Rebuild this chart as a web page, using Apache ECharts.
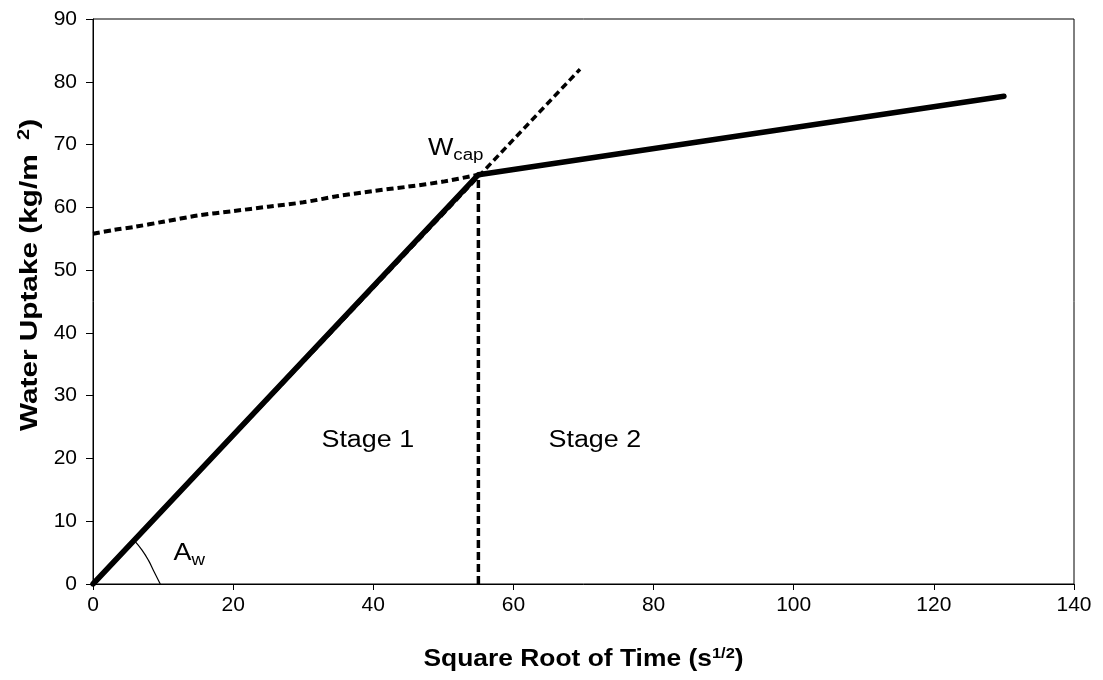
<!DOCTYPE html>
<html>
<head>
<meta charset="utf-8">
<script src="https://cdn.jsdelivr.net/npm/echarts@6/dist/echarts.min.js"></script>
<style>
  html, body { margin: 0; padding: 0; background: #fff; }
  #chart { width: 1103px; height: 680px; }
</style>
</head>
<body>
<div id="chart"></div>
<script>
// Capillary water uptake vs. square root of time

// Measured stage 1 / stage 2 uptake (solid)
const uptakeX = [0, 55, 130];
const uptakeY = [0, 65.2, 77.7];

// Stage 1 tangent extended beyond the knee (dashed)
const tangentX = [0, 69.5];
const tangentY = [0, 82];

// Stage 2 trend back-extrapolated to t = 0 (dashed)
const stage2X = [0, 3, 6, 10, 15, 20, 25, 30, 35, 40, 45, 50, 55];
const stage2Y = [55.8, 56.4, 56.9, 57.7, 58.7, 59.4, 60.1, 60.8, 61.8, 62.6, 63.3, 64.1, 65.2];

// Vertical marker at the capillary saturation point
const kneeX = [55, 55];
const kneeY = [0, 65.2];

// Angle arc marking the absorption coefficient
const arcX = [6.0, 7.0, 7.9, 8.7, 9.6];
const arcY = [6.8, 5.4, 3.8, 2.0, 0];

// Axis ticks
const xTicks = { min: 0, max: 140, interval: 20 };
const yTicks = { min: 0, max: 90, interval: 10 };

const toPairs = (xs, ys) => xs.map((x, i) => [x, ys[i]]);

const FONT = 'Liberation Sans, Arial, sans-serif';
const WIDE = 1.17; // horizontal stretch of the label lettering

const chart = echarts.init(document.getElementById('chart'), null, { renderer: 'canvas' });

const option = {
  backgroundColor: '#ffffff',
  animation: false,
  grid: {
    left: 93, right: 29, top: 19, bottom: 96,
    show: true, borderColor: '#000', borderWidth: 1, backgroundColor: 'transparent'
  },
  xAxis: {
    type: 'value',
    min: xTicks.min, max: xTicks.max, interval: xTicks.interval,
    axisLine: { onZero: false, lineStyle: { color: '#000', width: 1 } },
    axisTick: { show: true, inside: false, length: 6, lineStyle: { color: '#000' } },
    axisLabel: { color: '#000', fontFamily: FONT, fontSize: 21, margin: 11 },
    splitLine: { show: false }
  },
  yAxis: {
    type: 'value',
    min: yTicks.min, max: yTicks.max, interval: yTicks.interval,
    axisLine: { show: true, onZero: false, lineStyle: { color: '#000', width: 1 } },
    axisTick: { show: true, inside: false, length: 7, lineStyle: { color: '#000' } },
    axisLabel: { color: '#000', fontFamily: FONT, fontSize: 21, margin: 16 },
    splitLine: { show: false }
  },
  series: [
    {
      name: 'stage2-trend', type: 'line', data: toPairs(stage2X, stage2Y),
      showSymbol: false, smooth: 0.3, z: 2,
      lineStyle: { color: '#000', width: 4, type: [7, 4] }
    },
    {
      name: 'stage1-tangent', type: 'line', data: toPairs(tangentX, tangentY),
      showSymbol: false, z: 2,
      lineStyle: { color: '#000', width: 3.5, type: [7, 4] }
    },
    {
      name: 'knee', type: 'line', data: toPairs(kneeX, kneeY),
      showSymbol: false, z: 2,
      lineStyle: { color: '#000', width: 3.5, type: [8, 4] }
    },
    {
      name: 'uptake', type: 'line', data: toPairs(uptakeX, uptakeY),
      showSymbol: false, z: 3,
      lineStyle: { color: '#000', width: 5.5, cap: 'round', join: 'round' }
    },
    {
      name: 'angle', type: 'line', data: toPairs(arcX, arcY),
      showSymbol: false, smooth: true, z: 3,
      lineStyle: { color: '#000', width: 1.2 }
    }
  ]
};

chart.setOption(option);

const measure = (txt, size, weight) => {
  const ctx = document.createElement('canvas').getContext('2d');
  ctx.font = (weight || 'normal') + ' ' + size + 'px ' + FONT;
  return ctx.measureText(txt).width;
};

// Annotations anchored to data coordinates: [text, font size, vertical offset]
const notes = [
  { at: [47.8, 69.3], parts: [['W', 23, 0], ['cap', 16, 7]] },
  { at: [11.5, 4.8], parts: [['A', 23, 0], ['w', 16, 7]] },
  { at: [32.6, 22.9], parts: [['Stage 1', 23, 0]] },
  { at: [65.0, 22.9], parts: [['Stage 2', 23, 0]] }
];

const graphics = [];
notes.forEach((n) => {
  const p = chart.convertToPixel({ gridIndex: 0 }, n.at);
  let x = p[0];
  n.parts.forEach(([txt, size, dy]) => {
    graphics.push({
      type: 'text', x: x, y: p[1] + dy, scaleX: WIDE,
      style: { text: txt, fontFamily: FONT, fontSize: size, fill: '#000', verticalAlign: 'middle' }
    });
    x += measure(txt, size) * WIDE;
  });
});

// X axis title
const xMid = chart.convertToPixel({ gridIndex: 0 }, [70, 0]);
graphics.push({
  type: 'text', x: xMid[0], y: 659, scaleX: 1.1,
  style: {
    text: '{b|Square Root of Time (s}{sup|1/2}{b|)}',
    align: 'center', verticalAlign: 'middle',
    rich: {
      b: { fontFamily: FONT, fontWeight: 'bold', fontSize: 24, fill: '#000' },
      sup: { fontFamily: FONT, fontWeight: 'bold', fontSize: 15, fill: '#000', verticalAlign: 'top', padding: [0, 0, 11, 0] }
    }
  }
});

// Y axis title (rotated, reads bottom to top)
graphics.push({
  type: 'text', x: 30, y: 275, rotation: Math.PI / 2, scaleX: 1.24,
  style: {
    text: '{b|Water Uptake (kg/m}{s|   }{sup|2}{b|)}',
    align: 'center', verticalAlign: 'middle',
    rich: {
      b: { fontFamily: FONT, fontWeight: 'bold', fontSize: 24, fill: '#000' },
      s: { fontFamily: FONT, fontSize: 14 },
      sup: { fontFamily: FONT, fontWeight: 'bold', fontSize: 16, fill: '#000', verticalAlign: 'top', padding: [0, 0, 11, 0] }
    }
  }
});

chart.setOption({ graphic: graphics });
</script>
</body>
</html>
